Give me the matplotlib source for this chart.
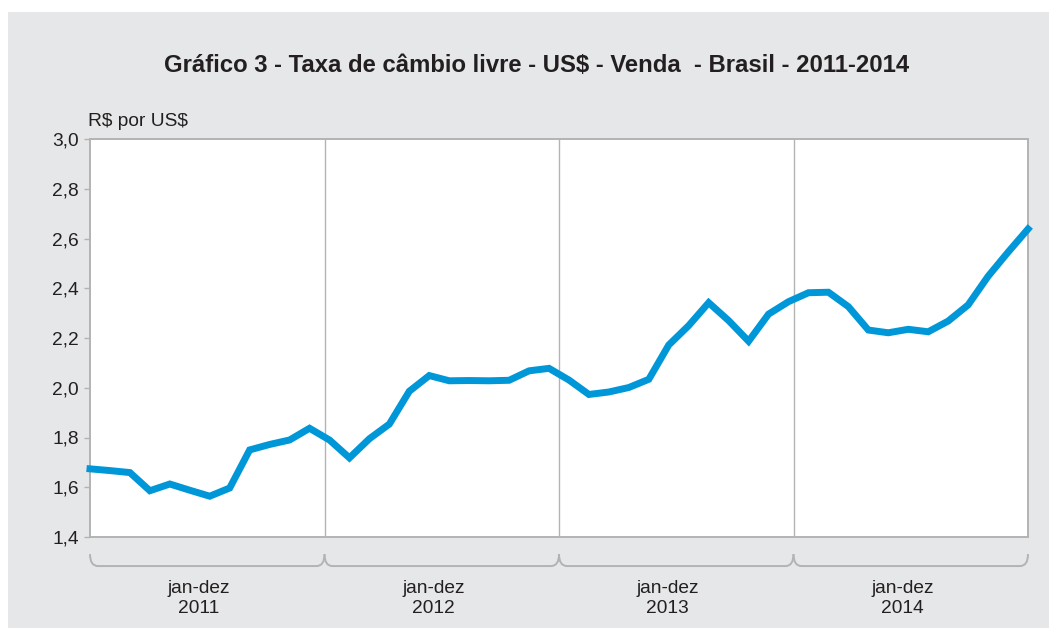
import numpy as np
import matplotlib.pyplot as plt
from matplotlib.path import Path
from matplotlib.patches import PathPatch, Rectangle
from matplotlib.ticker import FuncFormatter
import matplotlib.transforms as mtransforms

plt.rcParams['font.family'] = ['Liberation Sans', 'DejaVu Sans']

# monthly averages, R$ per US$, jan 2011 - dez 2014
rate_2011 = [1.674, 1.667, 1.659, 1.586, 1.613, 1.588, 1.564, 1.597, 1.750, 1.772, 1.790, 1.837]
rate_2012 = [1.790, 1.718, 1.795, 1.854, 1.986, 2.049, 2.028, 2.029, 2.028, 2.030, 2.068, 2.078]
rate_2013 = [2.031, 1.973, 1.983, 2.001, 2.034, 2.172, 2.250, 2.342, 2.270, 2.187, 2.296, 2.346]
rate_2014 = [2.382, 2.384, 2.326, 2.232, 2.221, 2.235, 2.225, 2.268, 2.333, 2.448, 2.545, 2.638]
years = ['2011', '2012', '2013', '2014']
y_ticks = [1.4, 1.6, 1.8, 2.0, 2.2, 2.4, 2.6, 2.8, 3.0]

rates = np.array(rate_2011 + rate_2012 + rate_2013 + rate_2014)
x = np.arange(len(rates))

gray_bg = '#e6e7e8'
text_c = '#231f20'
axis_c = '#b3b3b3'
blue = '#0097d8'
fs = 13.8

fig = plt.figure(figsize=(10.49, 6.28), dpi=100)
fig.patch.set_facecolor('white')
fig.patches.append(Rectangle((8 / 1049, 0), 1, 1 - 12 / 628, transform=fig.transFigure,
                             facecolor=gray_bg, edgecolor='none', zorder=-10))

ax = fig.add_axes([90 / 1049, 1 - 537 / 628, (1028 - 90) / 1049, (537 - 139) / 628])
ax.set_facecolor('white')
ax.plot(x, rates, color=blue, lw=5, solid_joinstyle='miter', zorder=3, clip_on=False)

ax.set_xlim(0, len(rates) - 1)
ax.set_ylim(y_ticks[0], y_ticks[-1])
ax.set_yticks(y_ticks)
ax.yaxis.set_major_formatter(FuncFormatter(lambda v, p: f"{v:.1f}".replace('.', ',')))
ax.tick_params(axis='y', length=4, width=1, color=axis_c, labelsize=fs, labelcolor=text_c, pad=4)
ax.set_xticks([])
for s in ax.spines.values():
    s.set_color(axis_c)
    s.set_linewidth(1.4)

# year spans
bounds = np.linspace(0, len(rates) - 1, len(years) + 1)
for b in bounds[1:-1]:
    ax.axvline(b, color=axis_c, lw=1, zorder=1)

trans = mtransforms.blended_transform_factory(ax.transData, ax.transAxes)
top, bot, r = -0.043, -0.073, 0.4
for i, yr in enumerate(years):
    a, b = bounds[i], bounds[i + 1]
    verts = [(a, top), (a, bot), (a + r, bot), (b - r, bot), (b, bot), (b, top)]
    codes = [Path.MOVETO, Path.CURVE3, Path.CURVE3, Path.LINETO, Path.CURVE3, Path.CURVE3]
    ax.add_patch(PathPatch(Path(verts, codes), transform=trans, facecolor='none',
                           edgecolor=axis_c, lw=1.4, clip_on=False))
    ax.text((a + b) / 2 - 0.42, -0.155, 'jan-dez\n' + yr, transform=trans, ha='center',
            va='center', fontsize=fs, color=text_c, linespacing=1.2)

fig.text(88 / 1049, 1 - 121 / 628, r'R\$ por US\$', ha='left', va='center', fontsize=fs, color=text_c)
fig.text(537 / 1049, 1 - 66 / 628, 'Gráfico 3 - Taxa de câmbio livre - US\\$ - Venda  - Brasil - 2011-2014',
         ha='center', va='center', fontsize=17.2, fontweight='bold', color=text_c)

fig.savefig('out.png', dpi=100, facecolor=fig.get_facecolor())
